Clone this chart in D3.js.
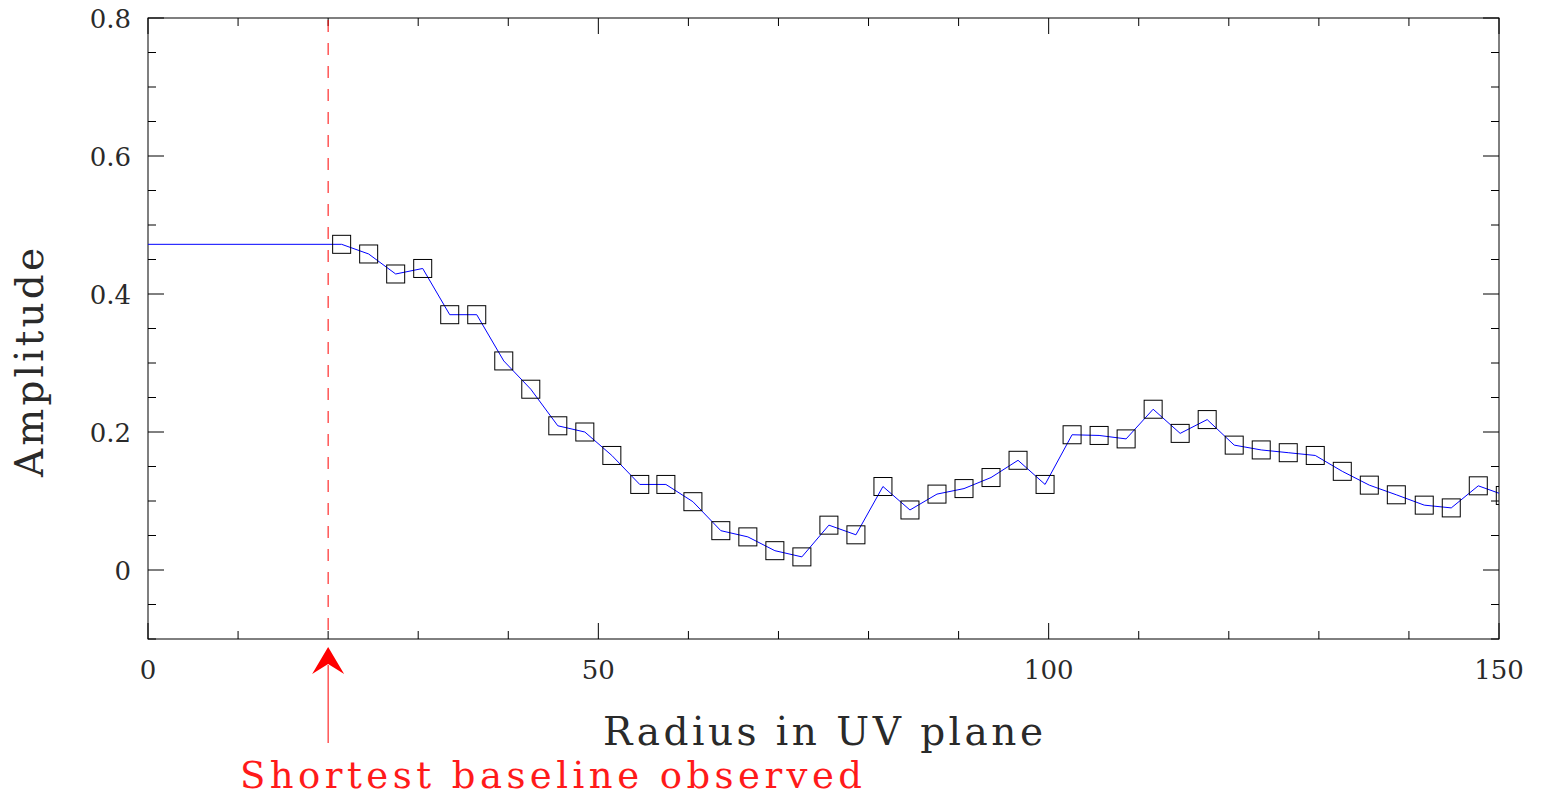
<!DOCTYPE html>
<html>
<head>
<meta charset="utf-8">
<title>Amplitude vs UV radius</title>
<style>
  body { margin: 0; background: #fff; }
  svg text { font-family: "DejaVu Serif", "Liberation Serif", serif; fill: #2a2a2a; }
</style>
</head>
<body>
<script src="https://cdn.jsdelivr.net/npm/d3@7"></script>
<script>

var radius = [21.5, 24.5, 27.5, 30.5, 33.5, 36.5, 39.5, 42.5, 45.5, 48.5,
              51.5, 54.6, 57.5, 60.5, 63.6, 66.6, 69.6, 72.6, 75.6, 78.6,
              81.6, 84.6, 87.6, 90.6, 93.6, 96.6, 99.6, 102.6, 105.6, 108.6,
              111.6, 114.6, 117.6, 120.6, 123.6, 126.6, 129.6, 132.6, 135.6, 138.6,
              141.7, 144.7, 147.7, 150.7];
var amplitude = [0.472, 0.458, 0.429, 0.437, 0.370, 0.370, 0.303, 0.262, 0.209, 0.200,
                 0.166, 0.124, 0.124, 0.099, 0.057, 0.048, 0.028, 0.019, 0.065, 0.051,
                 0.121, 0.087, 0.110, 0.118, 0.134, 0.159, 0.124, 0.196, 0.195, 0.190,
                 0.233, 0.198, 0.218, 0.181, 0.174, 0.170, 0.166, 0.143, 0.123, 0.109,
                 0.094, 0.090, 0.122, 0.108];

// the model line starts flat from radius 0 at the first amplitude
var modelStart = [0, 0.472];
var shortestBaseline = 20;

var xTicks = [0, 50, 100, 150];
var yTicks = [0, 0.2, 0.4, 0.6, 0.8];
var yTickLabels = ["0", "0.2", "0.4", "0.6", "0.8"];

var W = 1543, H = 796;
var margin = {top: 18, right: 44, bottom: 157, left: 148},
    width  = W - margin.left - margin.right,
    height = H - margin.top - margin.bottom;

var svg = d3.select("body").append("svg")
  .attr("width", W).attr("height", H);

var chart = svg.append("g")
  .attr("transform", "translate(" + margin.left + "," + margin.top + ")");

var x = d3.scaleLinear().domain([0, 150]).range([0, width]);
var y = d3.scaleLinear().domain([-0.1, 0.8]).range([height, 0]);

chart.append("clipPath").attr("id", "plot")
  .append("rect").attr("width", width).attr("height", height);

// frame
chart.append("rect")
  .attr("width", width).attr("height", height)
  .attr("fill", "none").attr("stroke", "#000").attr("stroke-width", 1);

// inward ticks on all four sides
function tickSet(values, len, scale, side) {
  chart.append("g").selectAll("line").data(values).enter().append("line")
    .attr("stroke", "#000").attr("stroke-width", 1)
    .each(function(d) {
      var s = d3.select(this), p = scale(d);
      if (side == "bottom") s.attr("x1", p).attr("x2", p).attr("y1", height).attr("y2", height - len);
      if (side == "top")    s.attr("x1", p).attr("x2", p).attr("y1", 0).attr("y2", len);
      if (side == "left")   s.attr("y1", p).attr("y2", p).attr("x1", 0).attr("x2", len);
      if (side == "right")  s.attr("y1", p).attr("y2", p).attr("x1", width).attr("x2", width - len);
    });
}
var xMinor = d3.range(0, 151, 10).filter(function(d){ return d % 50 != 0; });
var yMinor = d3.range(-0.1, 0.8001, 0.05).filter(function(d){ return Math.abs(Math.round(d / 0.2) * 0.2 - d) > 1e-6; });
["bottom", "top"].forEach(function(s) {
  tickSet(xTicks, 16, x, s);
  tickSet(xMinor, 8, x, s);
});
["left", "right"].forEach(function(s) {
  tickSet(yTicks, 16, y, s);
  tickSet(yMinor, 8, y, s);
});

// tick labels
chart.append("g").selectAll("text").data(xTicks).enter().append("text")
  .attr("x", function(d){ return x(d); })
  .attr("y", height + 40)
  .attr("text-anchor", "middle")
  .style("font-size", "26px")
  .text(function(d){ return d; });

chart.append("g").selectAll("text").data(yTicks).enter().append("text")
  .attr("x", -17)
  .attr("y", function(d){ return y(d) + 10; })
  .attr("text-anchor", "end")
  .style("font-size", "26px")
  .text(function(d, i){ return yTickLabels[i]; });

// axis titles
svg.append("text")
  .attr("x", 603).attr("y", 745)
  .attr("textLength", 440).attr("lengthAdjust", "spacing")
  .style("font-size", "39px")
  .text("Radius in UV plane");

svg.append("text")
  .attr("transform", "translate(43,477) rotate(-90)")
  .attr("textLength", 229).attr("lengthAdjust", "spacing")
  .style("font-size", "39px")
  .text("Amplitude");

// shortest baseline marker
chart.append("line")
  .attr("x1", x(shortestBaseline)).attr("x2", x(shortestBaseline))
  .attr("y1", 2).attr("y2", height)
  .attr("stroke", "#ff0000").attr("stroke-width", 1)
  .attr("stroke-dasharray", "12,11");

var ax = margin.left + x(shortestBaseline);
svg.append("line")
  .attr("x1", ax).attr("x2", ax).attr("y1", 665).attr("y2", 743)
  .attr("stroke", "#ff0000").attr("stroke-width", 1);
svg.append("path")
  .attr("d", "M" + ax + ",647 L" + (ax - 16) + ",674 L" + ax + ",664 L" + (ax + 16) + ",674 Z")
  .attr("fill", "#ff0000");

svg.append("text")
  .attr("x", 240).attr("y", 788)
  .attr("textLength", 622).attr("lengthAdjust", "spacing")
  .style("font-size", "37px")
  .style("fill", "#ff1a1a")
  .text("Shortest baseline observed");

// data
var plot = chart.append("g").attr("clip-path", "url(#plot)");

var pts = radius.map(function(r, i){ return [r, amplitude[i]]; });
var linePts = [modelStart].concat(pts);

plot.append("path")
  .datum(linePts)
  .attr("fill", "none")
  .attr("stroke", "#0000ff")
  .attr("stroke-width", 1)
  .attr("d", d3.line()
    .x(function(d){ return x(d[0]); })
    .y(function(d){ return y(d[1]); }));

var sq = 18;
plot.selectAll("rect.pt").data(pts).enter().append("rect")
  .attr("class", "pt")
  .attr("x", function(d){ return x(d[0]) - sq / 2; })
  .attr("y", function(d){ return y(d[1]) - sq / 2; })
  .attr("width", sq).attr("height", sq)
  .attr("fill", "none")
  .attr("stroke", "#000")
  .attr("stroke-width", 1);

</script>
</body>
</html>
